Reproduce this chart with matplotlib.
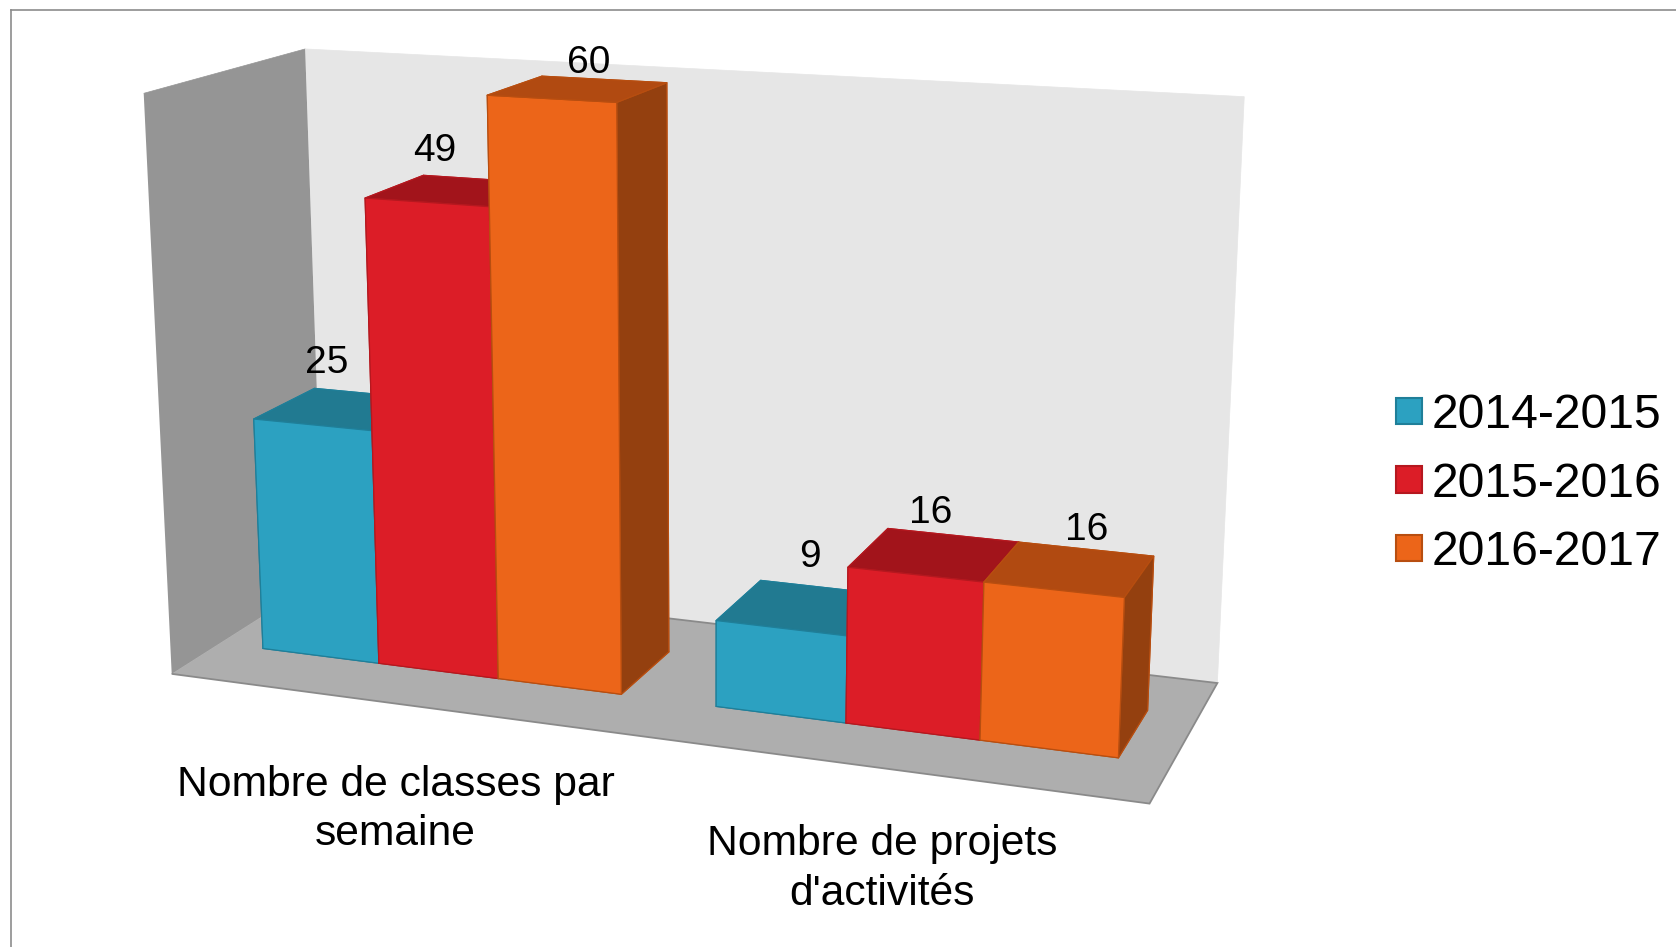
import matplotlib
matplotlib.use('Agg')
import matplotlib.pyplot as plt
from matplotlib.lines import Line2D
from matplotlib.patches import Patch
from mpl_toolkits.mplot3d import proj3d

plt.rcParams['font.family'] = ['Liberation Sans', 'DejaVu Sans']

WIDTH = 1676
HEIGHT = 947

categories = ['Nombre de classes par\nsemaine', 'Nombre de projets\nd\'activités']
seasons = ['2014-2015', '2015-2016', '2016-2017']
values_2014 = [25, 9]
values_2015 = [49, 16]
values_2016 = [60, 16]

front_colors = ['#2CA1C1', '#DC1D27', '#EC6519']
top_colors = ['#217A91', '#A2141B', '#B14A11']
side_colors = ['#1B6479', '#851116', '#94400F']
edge_colors = ['#1F7F99', '#B5181F', '#B84E10']

# label shift from the top of the back edge of each bar, x units then value units
label_dx = [[-0.102, -0.028], [-0.107, -0.046], [-0.032, 0.0]]
label_dz = [[2.95, 3.05], [2.62, 2.05], [1.56, 1.97]]

Z_MAX = 60
GROUP_WIDTH = 0.8
Y_FRONT = 0.3
Y_BACK = 0.7


def setup_axes(fig):
    size = 1051.2
    ax = fig.add_axes([151.63 / WIDTH, (HEIGHT - 933.98) / HEIGHT, size / WIDTH, size / HEIGHT],
                      projection='3d', computed_zorder=False)
    ax.set_xlim(0, len(categories), view_margin=0)
    ax.set_ylim(0, 1, view_margin=0)
    ax.set_zlim(0, Z_MAX, view_margin=0)
    ax.set_box_aspect((1.7905, 0.5991, 1.0596), zoom=1.13612)
    ax.view_init(elev=14.444, azim=-69.79, roll=0.084)
    ax.set_proj_type('persp', focal_length=0.5168)
    ax.patch.set_alpha(0)
    ax.grid(False)
    ax.set_xticks([])
    ax.set_yticks([])
    ax.set_zticks([])

    panes = [(ax.xaxis, '#959595', '#959595', 0.5),
             (ax.yaxis, '#E6E6E6', '#E6E6E6', 0.5),
             (ax.zaxis, '#AEAEAE', '#8A8A8A', 1.3)]
    for axis, face, edge, lw in panes:
        axis.set_pane_color(face)
        axis.pane.set_edgecolor(edge)
        axis.pane.set_linewidth(lw)
        axis.line.set_color((0, 0, 0, 0))
    return ax


def draw_bars(ax):
    series = [values_2014, values_2015, values_2016]
    bar_width = GROUP_WIDTH / len(series)
    offset = (1 - GROUP_WIDTH) / 2
    proj = ax.get_proj()
    order = 10
    for c in range(len(categories)):
        for s, values in enumerate(series):
            x = c + offset + s * bar_width
            faces = [side_colors[s], top_colors[s], front_colors[s],
                     side_colors[s], side_colors[s], side_colors[s]]
            ax.bar3d(x, Y_FRONT, 0, bar_width, Y_BACK - Y_FRONT, values[c], color=faces,
                     shade=False, edgecolor=edge_colors[s], linewidth=0.9, zorder=order)
            order += 1
            tx, ty, _ = proj3d.proj_transform(x + bar_width / 2 + label_dx[s][c], Y_BACK,
                                              values[c] + label_dz[s][c], proj)
            ax.text2D(tx, ty, str(values[c]), transform=ax.transData, fontsize=28, color='black',
                      ha='center', va='center', zorder=100)


def main():
    fig = plt.figure(figsize=(WIDTH / 100, HEIGHT / 100), dpi=100)
    ax = setup_axes(fig)
    draw_bars(ax)

    fig.text(395.5 / WIDTH, 1 - 809.5 / HEIGHT, categories[0], fontsize=30.7, ha='center',
             va='center', linespacing=1.31)
    fig.text(882 / WIDTH, 1 - 869 / HEIGHT, categories[1], fontsize=30.7, ha='center',
             va='center', linespacing=1.31)

    handles = [Patch(facecolor=front_colors[i], edgecolor=edge_colors[i], linewidth=1.5)
               for i in range(len(seasons))]
    fig.legend(handles, seasons, loc='center left', bbox_to_anchor=(1396 / WIDTH, 1 - 484.2 / HEIGHT),
               frameon=False, fontsize=34.7, handlelength=0.54, handleheight=0.458,
               handletextpad=0.2, labelspacing=0.49, borderaxespad=0, borderpad=0)

    fig.add_artist(Line2D([10.5 / WIDTH, 1], [1 - 10 / HEIGHT, 1 - 10 / HEIGHT], color='#8C8C8C', lw=1.2))
    fig.add_artist(Line2D([10.5 / WIDTH, 10.5 / WIDTH], [0, 1 - 10 / HEIGHT], color='#8C8C8C', lw=1.2))

    fig.savefig('out.png', dpi=100, facecolor='white')


if __name__ == "__main__":
    main()
